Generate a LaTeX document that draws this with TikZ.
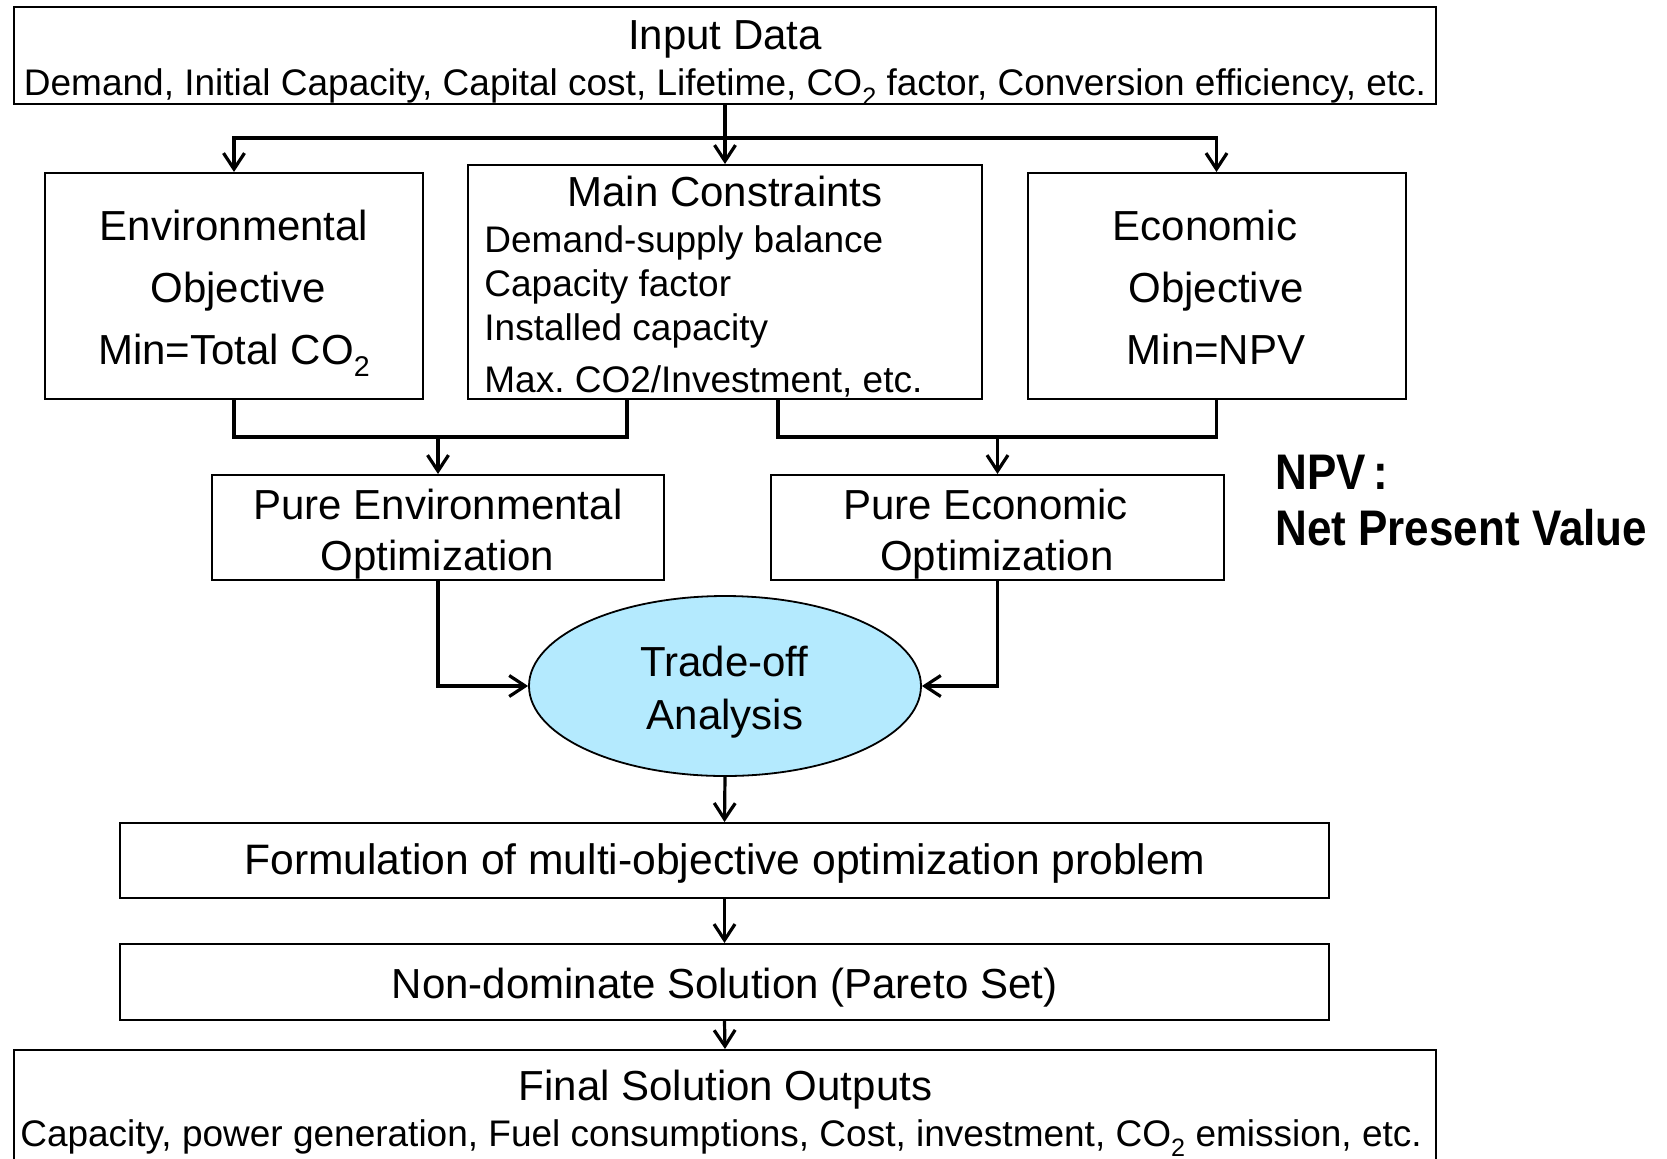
\documentclass[tikz,border=0pt]{standalone}
\usepackage{fontspec}
\usepackage{graphicx}
\setmainfont{Liberation Sans}
\usetikzlibrary{arrows.meta,shapes.geometric}
\frenchspacing
\newcommand{\fsmain}{\fontsize{21}{25}\selectfont}
\newcommand{\fssub}{\fontsize{18.5}{22}\selectfont}
\newcommand{\fsitem}{\fontsize{18.5}{22}\selectfont}
\newcommand{\fsnpv}{\fontsize{25}{29}\selectfont\bfseries}
\newcommand{\cotwo}{CO\raisebox{-0.55ex}{\scalebox{0.68}{2}}}
\definecolor{tradefill}{RGB}{180,234,254}
\begin{document}
\begin{tikzpicture}[x=0.5pt,y=-0.5pt,
  box/.style={draw, line width=1pt, rectangle, inner sep=0pt},
  txt/.style={anchor=base, inner sep=0pt, font=\fsmain},
  subtxt/.style={anchor=base, inner sep=0pt, font=\fssub},
  itemtxt/.style={anchor=base west, inner sep=0pt, font=\fsitem},
  npvtxt/.style={anchor=base west, inner sep=0pt, font=\fsnpv},
  wire/.style={line width=1.6pt},
  conn/.style={line width=1.6pt, -{Straight Barb[length=8pt,width=10.5pt]}}]
\fill[white] (0,0) rectangle (1667,1158);
\useasboundingbox (0,0) rectangle (1667,1158);

% boxes
\node[box, minimum width=711pt, minimum height=48.5pt] (inp) at (725,55.5) {};
\node[box, minimum width=189pt, minimum height=113pt] (env) at (234,286) {};
\node[box, minimum width=257pt, minimum height=117pt] (mc) at (725,282) {};
\node[box, minimum width=189pt, minimum height=113pt] (eco) at (1216.5,286) {};
\node[box, minimum width=226pt, minimum height=52.5pt] (pe) at (438,527.5) {};
\node[box, minimum width=226.5pt, minimum height=52.5pt] (pc) at (997.5,527.5) {};
\node[draw, ellipse, line width=0.9pt, fill=tradefill, inner sep=0pt,
      minimum width=196pt, minimum height=90pt] (tr) at (725,686) {};
\node[box, minimum width=604.5pt, minimum height=37.5pt] (form) at (724.5,860.5) {};
\node[box, minimum width=604.5pt, minimum height=38pt] (nond) at (724.5,982) {};
\node[box, minimum width=711pt, minimum height=60pt] (fin) at (725,1110) {};

% texts
\node[txt] (inp1) at (725,49) {Input Data};
\node[subtxt] (inp2) at (725,95) {Demand, Initial Capacity, Capital cost, Lifetime, \cotwo{} factor, Conversion efficiency, etc.};

\node[txt] (env1) at (234,240) {Environmental};
\node[txt] (env2) at (238,302) {Objective};
\node[txt] (env3) at (234,364) {Min=Total \cotwo};

\node[txt] (mc0) at (725,206) {Main Constraints};
\node[itemtxt] (mc1) at (484,252) {Demand-supply balance};
\node[itemtxt] (mc2) at (484,296) {Capacity factor};
\node[itemtxt] (mc3) at (484,340) {Installed capacity};
\node[itemtxt] (mc4) at (484,392) {Max. CO2/Investment, etc.};

\node[txt] (eco1) at (1205,240) {Economic};
\node[txt] (eco2) at (1216,302) {Objective};
\node[txt] (eco3) at (1216,364) {Min=NPV};

\node[txt] (pe1) at (438,519) {Pure Environmental};
\node[txt] (pe2) at (437.5,570) {Optimization};
\node[txt] (pc1) at (985.5,519) {Pure Economic};
\node[txt] (pc2) at (997,570) {Optimization};

\node[txt] (tr1) at (724.5,676) {Trade-off};
\node[txt] (tr2) at (725,729) {Analysis};

\node[txt, font=\fontsize{21.3}{25}\selectfont] (form1) at (725,874) {Formulation of multi-objective optimization problem};
\node[txt] (nond1) at (724.5,998) {Non-dominate Solution (Pareto Set)};
\node[txt] (fin1) at (725.5,1100) {Final Solution Outputs};
\node[subtxt] (fin2) at (721,1146) {Capacity, power generation, Fuel consumptions, Cost, investment, \cotwo{} emission, etc.};

\node[npvtxt] (npv1) at (1275,489) {\scalebox{0.88}[1]{NPV\,:}};
\node[npvtxt] (npv2) at (1275,545) {\scalebox{0.88}[1]{Net Present Value}};

% connectors
\coordinate (split) at (725,138);
\draw[conn] (inp.south) -- (mc.north);
\draw[conn] (split) -| (env.north);
\draw[conn] (split) -| (eco.north);

\coordinate (mcL) at (627,399);
\coordinate (mL) at (438,437);
\draw[wire] (env.south) |- (mcL |- mL) -- (mcL);
\draw[conn] (mL) -- (pe.north);

\coordinate (mcR) at (778,399);
\coordinate (mR) at (997.5,437);
\draw[wire] (mcR) |- (eco.south |- mR) -- (eco.south);
\draw[conn] (mR) -- (pc.north);

\draw[conn] (pe.south) |- (tr.west);
\draw[conn] (pc.south) |- (tr.east);
\draw[conn] (tr.south) -- (form.north);
\draw[conn] (form.south) -- (nond.north);
\draw[conn] (nond.south) -- (fin.north);
\end{tikzpicture}
\end{document}
